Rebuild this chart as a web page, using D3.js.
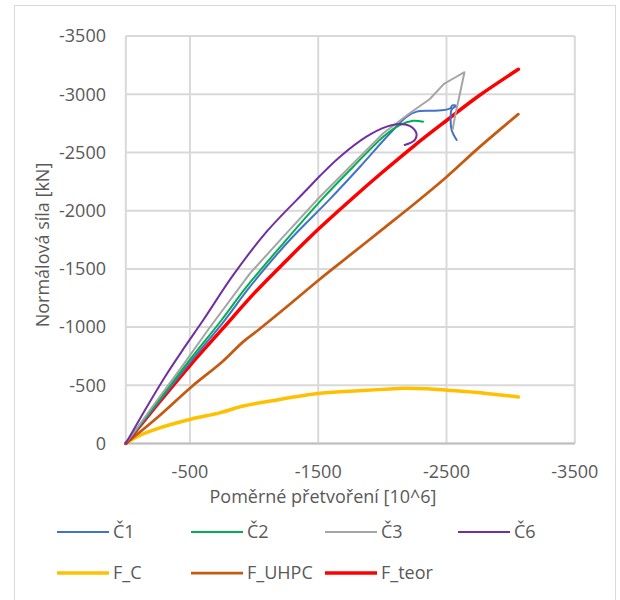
<!DOCTYPE html>
<html>
<head>
<meta charset="utf-8">
<script src="https://cdn.jsdelivr.net/npm/d3@7"></script>
<style>
  body { margin: 0; background: #fff; }
  text { font-family: "Open Sans", "Liberation Sans", sans-serif; fill: #595959; }
</style>
</head>
<body>
<div id="chart"></div>
<script>
  // axis ticks
  var xTicks = [-500, -1500, -2500, -3500];
  var yTicks = [0, -500, -1000, -1500, -2000, -2500, -3000, -3500];

  // series: [strain, force]
  var c1 = [[0,0],[-255,-355],[-510,-710],[-765,-1050],[-968,-1347],[-1255,-1720],[-1585,-2093],[-1826,-2378],
    [-2060,-2665],[-2190,-2808],[-2268,-2851],[-2370,-2859],[-2460,-2862],[-2530,-2880],[-2545,-2905],[-2574,-2900],
    [-2540,-2870],[-2532,-2800],[-2540,-2693],[-2579,-2607]];
  var c2 = [[0,0],[-250,-360],[-500,-720],[-747,-1061],[-942,-1347],[-1228,-1720],[-1539,-2110],[-1773,-2378],
    [-2007,-2636],[-2135,-2736],[-2239,-2773],[-2318,-2765]];
  var c3 = [[0,0],[-230,-350],[-450,-680],[-640,-975],[-968,-1462],[-1228,-1777],[-1514,-2120],[-1747,-2378],
    [-2007,-2665],[-2213,-2837],[-2370,-2960],[-2480,-3090],[-2560,-3140],[-2640,-3190],[-2605,-3009],
    [-2566,-2808],[-2548,-2700]];
  var c6 = [[0,0],[-150,-288],[-306,-574],[-461,-832],[-604,-1061],[-838,-1448],[-1098,-1820],[-1410,-2180],
    [-1514,-2300],[-1670,-2464],[-1876,-2636],[-2034,-2722],[-2135,-2745],[-2213,-2728],[-2265,-2665],
    [-2252,-2607],[-2174,-2565]];
  var fC = [[0,0],[-100,-65],[-253,-130],[-513,-210],[-738,-265],[-916,-322],[-1129,-365],[-1494,-430],
    [-1780,-452],[-2000,-465],[-2170,-475],[-2350,-470],[-2509,-458],[-2717,-440],[-3060,-400]];
  var fUHPC = [[0,0],[-253,-230],[-513,-488],[-750,-700],[-916,-875],[-1033,-975],[-1250,-1170],[-1500,-1400],
    [-1750,-1620],[-2000,-1840],[-2250,-2060],[-2500,-2290],[-2750,-2540],[-3060,-2830]];
  var fTeor = [[0,0],[-250,-340],[-500,-670],[-750,-980],[-1000,-1290],[-1250,-1570],[-1500,-1840],[-1750,-2090],
    [-2000,-2330],[-2250,-2560],[-2500,-2775],[-2750,-2985],[-3060,-3215]];

  var seriesNames = ["Č1", "Č2", "Č3", "Č6", "F_C", "F_UHPC", "F_teor"];
  var seriesData = [c1, c2, c3, c6, fC, fUHPC, fTeor];
  var seriesColors = ["#4472C4", "#00B050", "#A5A5A5", "#7030A0", "#FFC000", "#C55A11", "#FF0000"];
  var seriesWidths = [2, 2, 2, 2, 3.5, 2.75, 3.5];

  var W = 620, H = 600;
  var plot = {left: 125.8, right: 574.8, top: 36.1, bottom: 443.5};

  var svg = d3.select("#chart").append("svg")
    .attr("width", W).attr("height", H);

  // chart area border
  svg.append("rect")
    .attr("x", 14.5).attr("y", 5.5)
    .attr("width", 601).attr("height", 600)
    .attr("fill", "#fff").attr("stroke", "#D9D9D9").attr("stroke-width", 1);

  var x = d3.scaleLinear().domain([0, -3500]).range([plot.left, plot.right]);
  var y = d3.scaleLinear().domain([0, -3500]).range([plot.bottom, plot.top]);

  // gridlines
  svg.selectAll("line.ygrid")
    .data(yTicks)
    .enter().append("line")
    .attr("class", "ygrid")
    .attr("x1", plot.left).attr("x2", plot.right)
    .attr("y1", function(d) { return y(d); })
    .attr("y2", function(d) { return y(d); })
    .attr("stroke", "#D9D9D9").attr("stroke-width", 2);

  svg.selectAll("line.xgrid")
    .data([0].concat(xTicks))
    .enter().append("line")
    .attr("class", "xgrid")
    .attr("y1", plot.top).attr("y2", plot.bottom)
    .attr("x1", function(d) { return x(d); })
    .attr("x2", function(d) { return x(d); })
    .attr("stroke", "#D9D9D9").attr("stroke-width", 2);

  // bottom axis line
  svg.append("line")
    .attr("x1", plot.left).attr("x2", plot.right)
    .attr("y1", y(0)).attr("y2", y(0))
    .attr("stroke", "#BFBFBF").attr("stroke-width", 2);

  // tick labels
  svg.selectAll("text.ylab")
    .data(yTicks)
    .enter().append("text")
    .attr("class", "ylab")
    .attr("x", 106)
    .attr("y", function(d) { return y(d); })
    .attr("dy", "0.35em")
    .attr("text-anchor", "end")
    .attr("font-size", "18px")
    .text(function(d) { return d; });

  svg.selectAll("text.xlab")
    .data(xTicks)
    .enter().append("text")
    .attr("class", "xlab")
    .attr("x", function(d) { return x(d); })
    .attr("y", 478)
    .attr("text-anchor", "middle")
    .attr("font-size", "18px")
    .text(function(d) { return d; });

  // axis titles
  svg.append("text")
    .attr("x", 323).attr("y", 503)
    .attr("text-anchor", "middle")
    .attr("font-size", "18px")
    .text("Poměrné přetvoření [10^6]");

  svg.append("text")
    .attr("transform", "translate(49,245) rotate(-90)")
    .attr("text-anchor", "middle")
    .attr("font-size", "18px")
    .text("Normálová síla [kN]");

  // series lines (Č3 keeps its sharp peak)
  var smooth = d3.line()
    .curve(d3.curveCatmullRom.alpha(0.5))
    .x(function(d) { return x(d[0]); })
    .y(function(d) { return y(d[1]); });
  var straight = d3.line()
    .x(function(d) { return x(d[0]); })
    .y(function(d) { return y(d[1]); });

  var drawOrder = [4, 5, 6, 0, 1, 2, 3];
  drawOrder.forEach(function(i) {
    svg.append("path")
      .datum(seriesData[i])
      .attr("d", i === 2 ? straight : smooth)
      .attr("fill", "none")
      .attr("stroke", seriesColors[i])
      .attr("stroke-width", seriesWidths[i])
      .attr("stroke-linejoin", "round")
      .attr("stroke-linecap", "round");
  });

  // legend
  var legX = [57, 191, 325, 458];
  var legend = svg.selectAll("g.leg")
    .data(seriesNames)
    .enter().append("g")
    .attr("class", "leg")
    .attr("transform", function(d, i) {
      var col = i < 4 ? i : i - 4;
      var row = i < 4 ? 0 : 1;
      return "translate(" + legX[col] + "," + (row === 0 ? 532 : 573) + ")";
    });

  legend.append("line")
    .attr("x1", 0).attr("x2", 52)
    .attr("y1", 0).attr("y2", 0)
    .attr("stroke", function(d, i) { return seriesColors[i]; })
    .attr("stroke-width", function(d, i) { return seriesWidths[i]; });

  legend.append("text")
    .attr("x", 56)
    .attr("y", 0)
    .attr("dy", "0.35em")
    .attr("font-size", "18px")
    .text(function(d) { return d; });
</script>
</body>
</html>
